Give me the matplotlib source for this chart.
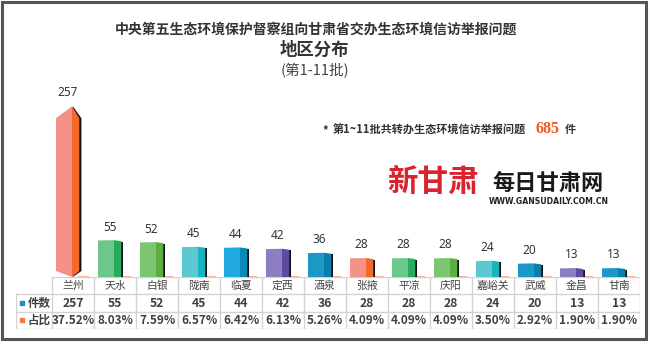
import matplotlib
matplotlib.use('Agg')
import matplotlib.pyplot as plt
from matplotlib.patches import Polygon, Rectangle

plt.rcParams['font.family'] = ['Noto Sans CJK SC', 'DejaVu Sans']

regions = ['兰州', '天水', '白银', '陇南', '临夏', '定西', '酒泉',
           '张掖', '平凉', '庆阳', '嘉峪关', '武威', '金昌', '甘南']
counts = [257, 55, 52, 45, 44, 42, 36, 28, 28, 28, 24, 20, 13, 13]
shares = [37.52, 8.03, 7.59, 6.57, 6.42, 6.13, 5.26, 4.09, 4.09, 4.09, 3.50, 2.92, 1.90, 1.90]

front_colors = ['#F4928A', '#6DC78B', '#7DC570', '#5CC9D2', '#20A9DE', '#8D7EC1', '#1B98C6',
                '#F4928A', '#6DC78B', '#7DC570', '#5CC9D2', '#1B98C6', '#8D7EC1', '#1B98C6']
side_colors = ['#F26A2B', '#26AD5B', '#5BAE40', '#17B3BF', '#0A88BA', '#5D4BA1', '#0B7EAA',
               '#F26A2B', '#26AD5B', '#5BAE40', '#17B3BF', '#0B7EAA', '#5D4BA1', '#0B7EAA']

W, H = 650, 345
fig = plt.figure(figsize=(6.5, 3.45), dpi=100)
fig.patch.set_facecolor('white')


def fx(px):
    return px / W


def fy(py):
    return 1 - py / H


# outer frame
fig.patches.append(Rectangle((fx(1.5), fy(339)), fx(646) - fx(1.5), fy(1.5) - fy(339),
                             transform=fig.transFigure, fill=False,
                             edgecolor='#555555', linewidth=2.2))

# titles
fig.text(fx(316), fy(30), '中央第五生态环境保护督察组向甘肃省交办生态环境信访举报问题',
         ha='center', va='center', fontsize=10, fontweight='bold', color='#333333')
fig.text(fx(314), fy(50), '地区分布', ha='center', va='center',
         fontsize=12.5, fontweight='bold', color='#333333')
fig.text(fx(315), fy(71), '(第1-11批)', ha='center', va='center',
         fontsize=10.5, color='#444444')

# note
fig.text(fx(322), fy(131), '*', ha='left', va='center', fontsize=8, fontweight='bold', color='#333333')
fig.text(fx(333), fy(130), '第1~11批共转办生态环境信访举报问题', ha='left', va='center',
         fontsize=8, fontweight='bold', color='#333333')
fig.text(fx(535), fy(129), str(sum(counts)), ha='left', va='center', fontsize=11.5,
         fontweight='bold', color='#EB5A1E', family=['Liberation Serif', 'DejaVu Serif'])
fig.text(fx(565), fy(130), '件', ha='left', va='center', fontsize=8, fontweight='bold', color='#333333')

# logo
fig.text(fx(433), fy(182), '新甘肃', ha='center', va='center', fontsize=22,
         fontweight='bold', color='#D9232E')
fig.text(fx(548), fy(183), '每日甘肃网', ha='center', va='center', fontsize=16,
         fontweight='bold', color='#1A1A1A')
fig.text(fx(549), fy(202), 'WWW.GANSUDAILY.COM.CN', ha='center', va='center', fontsize=5.6,
         fontweight='bold', color='#222222', family='DejaVu Sans')

# bars
ax = fig.add_axes([fx(52), fy(277), fx(640) - fx(52), fy(91) - fy(277)])
ax.set_xlim(-0.5, len(regions) - 0.5)
ax.set_ylim(0, 280)
ax.axis('off')

for i, v in enumerate(counts):
    L, M, R = i - 0.405, i - 0.025, i + 0.15
    # small share bar behind
    ax.add_patch(Rectangle((i + 0.12, 0), 0.26, shares[i] / 100, facecolor='#F7A98C',
                           edgecolor='#F7A98C', linewidth=2, zorder=1))
    if i == 0:
        d, b = 18, 9
        ax.add_patch(Polygon([(M + 0.02, 0), (M + 0.02, v), (R + 0.05, v - d), (R + 0.05, b)],
                             closed=True, facecolor='#111111', edgecolor='none', zorder=2))
        ax.add_patch(Polygon([(L, b), (L, v - d), (M, v), (M, 0)], closed=True,
                             facecolor=front_colors[i], edgecolor='none', zorder=3))
        ax.add_patch(Polygon([(M, 0), (M, v), (R, v - d), (R, b)], closed=True,
                             facecolor=side_colors[i], edgecolor='none', zorder=3))
        top = v
    else:
        ax.add_patch(Rectangle((R - 0.02, 0.5), 0.065, v - 2.5, facecolor='#111111',
                               edgecolor='none', zorder=2))
        ax.add_patch(Polygon([(L, 0), (L, v), (M, v + 0.5), (M, 0)], closed=True,
                             facecolor=front_colors[i], edgecolor='none', zorder=3))
        ax.add_patch(Polygon([(M, 0), (M, v + 0.5), (R, v - 1), (R, 0)], closed=True,
                             facecolor=side_colors[i], edgecolor='none', zorder=3))
        top = v
    ax.annotate(str(v), (i - 0.13, top), xytext=(0, 5), textcoords='offset points',
                ha='center', va='bottom', fontsize=8.5, color='#333333',
                family=['Noto Sans', 'DejaVu Sans'])

# data table
tab = fig.add_axes([fx(16), fy(329), fx(640) - fx(16), fy(277) - fy(329)])
x0 = -36 / 42 - 0.5
n = len(regions)
tab.set_xlim(x0, n - 0.5)
tab.set_ylim(3, 0)
tab.axis('off')
grid = '#D3D3D3'
tab.plot([-0.5, n - 0.5], [0, 0], color=grid, lw=1)
for r in [1, 2, 3]:
    tab.plot([x0, n - 0.5], [r, r], color=grid, lw=1)
for i in range(n + 1):
    tab.plot([i - 0.5, i - 0.5], [0, 3], color=grid, lw=1)
tab.plot([x0, x0], [1, 3], color=grid, lw=1)

for i in range(n):
    tab.text(i, 0.52, regions[i], ha='center', va='center', fontsize=7.8, color='#444444')
    tab.text(i, 1.52, str(counts[i]), ha='center', va='center', fontsize=8.8,
             fontweight='bold', color='#404040')
    tab.text(i, 2.52, f'{shares[i]:.2f}%', ha='center', va='center', fontsize=8.5,
             fontweight='bold', color='#404040')

tab.plot([x0 + 0.15], [1.5], marker='s', ms=3.2, color='#1A8FC0', ls='none')
tab.plot([x0 + 0.15], [2.5], marker='s', ms=3.2, color='#F47C3C', ls='none')
tab.text(x0 + 0.27, 1.5, '件数', ha='left', va='center', fontsize=8.3, fontweight='bold', color='#404040')
tab.text(x0 + 0.27, 2.5, '占比', ha='left', va='center', fontsize=8.3, fontweight='bold', color='#404040')

fig.savefig('out.png', dpi=100)
